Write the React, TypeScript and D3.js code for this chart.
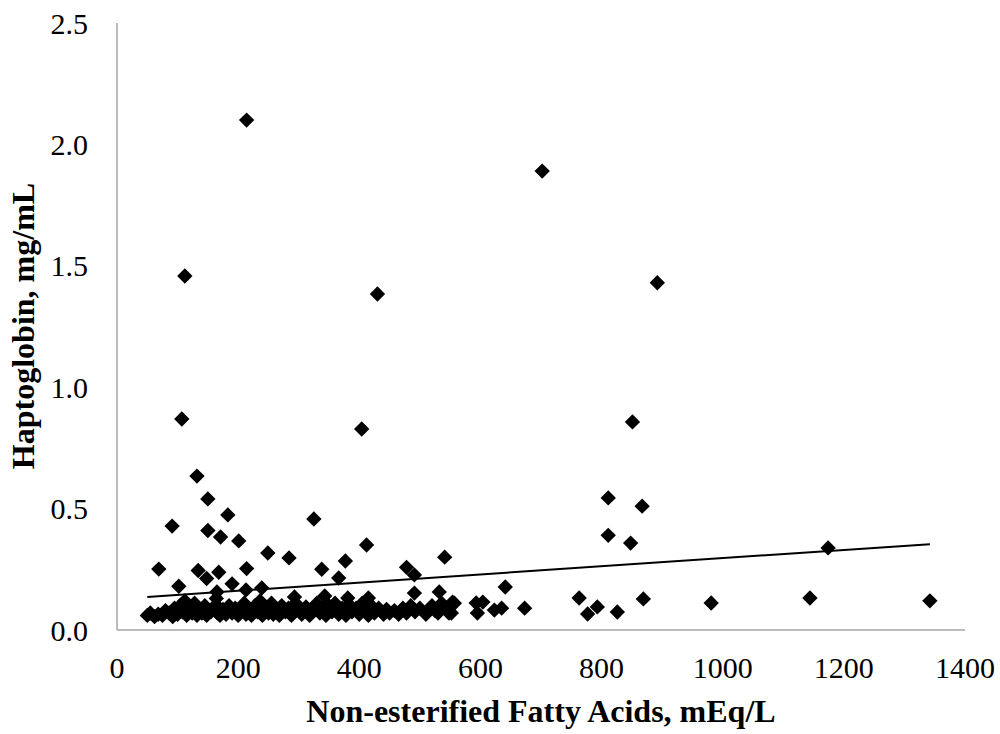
import React from "react";
import * as d3 from "d3";

// Non-esterified fatty acids (mEq/L) vs haptoglobin (mg/mL)
const nefa: number[] = [
  214, 702, 112, 430, 892, 107, 404, 851, 132, 150, 183, 91, 325, 150, 171, 201,
  811, 867, 811, 848, 412, 249, 284, 541, 69, 134, 148, 168, 214, 190, 102, 213,
  239, 165, 293, 338, 377, 366, 478, 491, 343, 381, 415, 491, 532, 554, 641,
  50, 55, 62, 68, 75, 80, 86, 92, 95, 100, 104, 108, 112, 115, 120, 124, 128, 132, 136, 140, 145, 148,
  155, 160, 164, 165, 166, 170, 175, 180, 185, 190, 195, 200, 205, 210, 213, 218, 222, 228, 232, 236, 240, 245, 250,
  255, 258, 263, 268, 272, 278, 283, 288, 295, 300, 305, 312, 318, 322, 330, 335, 340, 345, 350,
  355, 360, 366, 372, 378, 383, 388, 395, 400, 405, 410, 415, 420, 425, 432, 440, 445, 450,
  458, 465, 472, 478, 485, 492, 500, 510, 520, 525, 530, 536, 542, 548, 552, 557,
  593, 604, 595, 623, 635, 673, 763, 777, 793, 826, 869, 981, 1144, 1174, 1342,
];
const hapto: number[] = [
  2.1, 1.89, 1.458, 1.384, 1.43, 0.869, 0.828, 0.857, 0.634, 0.54, 0.474, 0.428, 0.457, 0.41, 0.383, 0.367,
  0.544, 0.51, 0.39, 0.358, 0.35, 0.317, 0.297, 0.3, 0.251, 0.245, 0.212, 0.238, 0.253, 0.19, 0.18, 0.165,
  0.173, 0.157, 0.136, 0.25, 0.284, 0.214, 0.258, 0.227, 0.14, 0.132, 0.132, 0.152, 0.157, 0.115, 0.177,
  0.06, 0.07, 0.055, 0.065, 0.06, 0.08, 0.07, 0.055, 0.09, 0.065, 0.1, 0.075, 0.12, 0.06, 0.09, 0.07, 0.11, 0.06, 0.085, 0.07, 0.1, 0.06,
  0.075, 0.095, 0.13, 0.1, 0.07, 0.06, 0.085, 0.065, 0.1, 0.07, 0.09, 0.06, 0.08, 0.11, 0.065, 0.09, 0.06, 0.1, 0.075, 0.12, 0.06, 0.09, 0.07,
  0.11, 0.065, 0.085, 0.06, 0.1, 0.075, 0.09, 0.06, 0.11, 0.08, 0.065, 0.095, 0.06, 0.08, 0.11, 0.07, 0.09, 0.06, 0.1,
  0.075, 0.11, 0.065, 0.09, 0.06, 0.105, 0.075, 0.09, 0.065, 0.11, 0.08, 0.06, 0.1, 0.07, 0.09, 0.065, 0.085, 0.07,
  0.08, 0.065, 0.09, 0.07, 0.1, 0.075, 0.09, 0.065, 0.1, 0.08, 0.07, 0.11, 0.09, 0.07, 0.07, 0.11,
  0.111, 0.115, 0.07, 0.082, 0.09, 0.09, 0.132, 0.066, 0.095, 0.074, 0.128, 0.111, 0.132, 0.338, 0.12,
];

const xTicks: number[] = [0, 200, 400, 600, 800, 1000, 1200, 1400];
const yTicks: number[] = [0, 0.5, 1.0, 1.5, 2.0, 2.5];

// linear trend line: y = intercept + slope * x
const trendIntercept = 0.128;
const trendSlope = 0.000168;

const xTitle = "Non-esterified Fatty Acids, mEq/L";
const yTitle = "Haptoglobin, mg/mL";

export default function App() {
  const W = 1000;
  const H = 734;
  const left = 117;
  const right = 965;
  const top = 23;
  const bottom = 630;
  const x = d3.scaleLinear().domain([0, 1400]).range([left, right]);
  const y = d3.scaleLinear().domain([0, 2.5]).range([bottom, top]);
  const sym = d3.symbol().type(d3.symbolSquare).size(118)() as string;
  const font = "'Liberation Serif', 'Times New Roman', serif";
  const xMin = d3.min(nefa) as number;
  const xMax = d3.max(nefa) as number;
  const trend = d3.line<number>()
    .x((v) => x(v))
    .y((v) => y(trendIntercept + trendSlope * v))([xMin, xMax]) as string;

  return (
    <svg
      width={W}
      height={H}
      style={{ position: "absolute", left: 0, top: 0, background: "#fff" }}
      fontFamily={font}
    >
      <rect x={0} y={0} width={W} height={H} fill="#fff" />
      <line x1={left} x2={left} y1={top} y2={bottom} stroke="#a6a6a6" strokeWidth={1.5} />
      <line x1={left} x2={right} y1={bottom} y2={bottom} stroke="#a6a6a6" strokeWidth={1.5} />
      {yTicks.map((t) => (
        <text key={"y" + t} x={88} y={y(t)} dy="0.35em" textAnchor="end" fontSize={30} fill="#000">
          {t.toFixed(1)}
        </text>
      ))}
      {xTicks.map((t) => (
        <text key={"x" + t} x={x(t)} y={678} textAnchor="middle" fontSize={30} fill="#000">
          {t}
        </text>
      ))}
      {nefa.map((v, i) => (
        <path
          key={"p" + i}
          d={sym}
          transform={`translate(${x(v)},${y(hapto[i])}) rotate(45)`}
          fill="#000"
        />
      ))}
      <path d={trend} stroke="#000" strokeWidth={2} fill="none" />
      <text x={(left + right) / 2} y={722} textAnchor="middle" fontSize={32} fontWeight="bold" fill="#000">
        {xTitle}
      </text>
      <text
        transform={`translate(34,326) rotate(-90)`}
        textAnchor="middle"
        fontSize={32}
        fontWeight="bold"
        fill="#000"
      >
        {yTitle}
      </text>
    </svg>
  );
}
